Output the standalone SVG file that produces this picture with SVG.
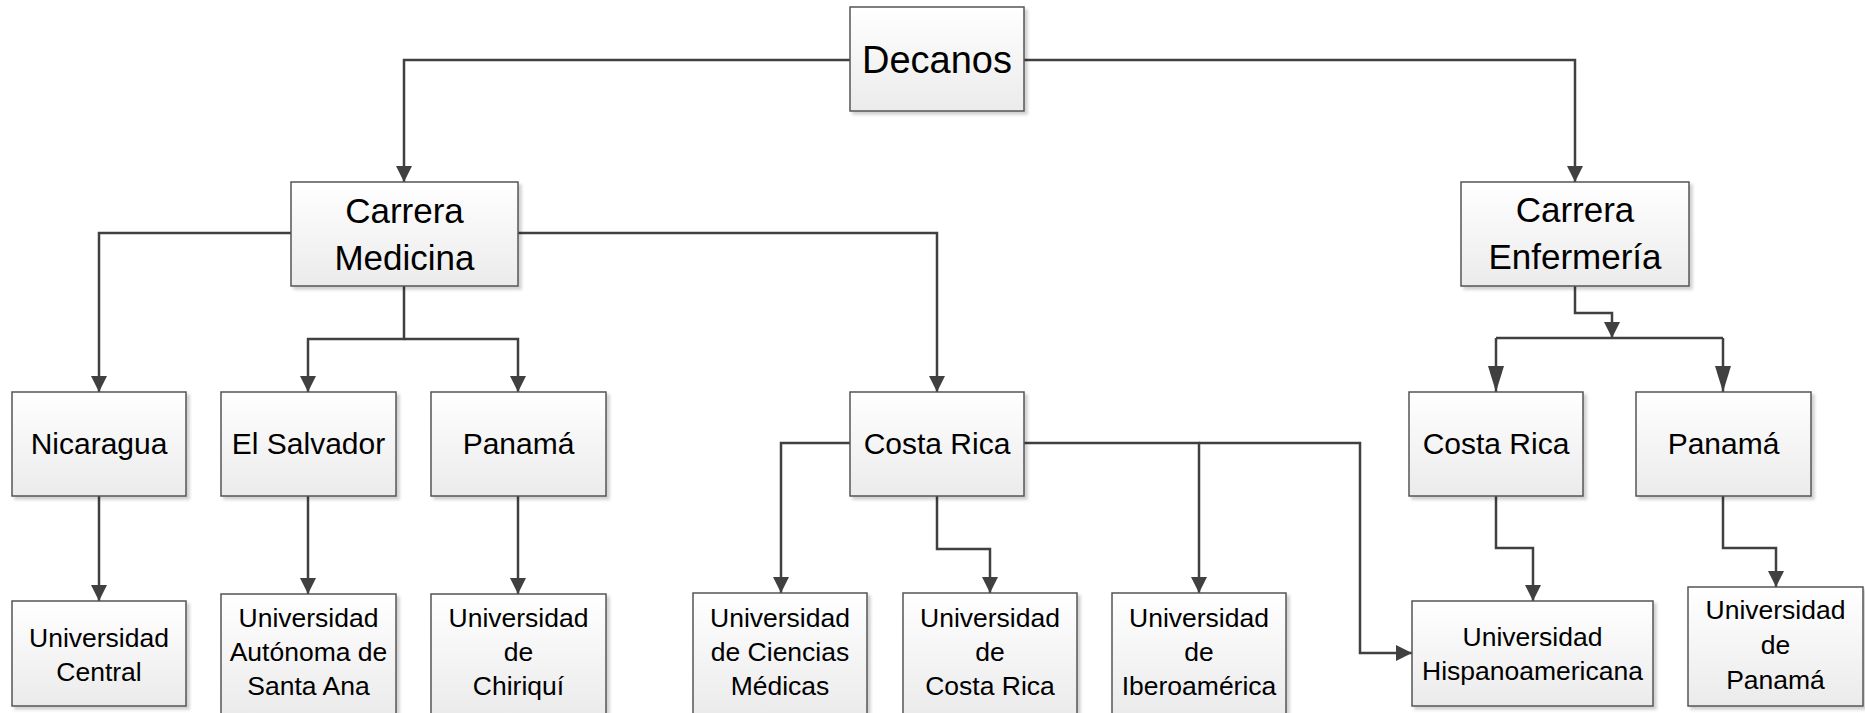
<svg xmlns="http://www.w3.org/2000/svg" width="1865" height="713" viewBox="0 0 1865 713">
<defs>
<linearGradient id="g" x1="0" y1="0" x2="0" y2="1">
<stop offset="0" stop-color="#ffffff"/>
<stop offset="1" stop-color="#ebebeb"/>
</linearGradient>
<filter id="sh" x="-10%" y="-10%" width="125%" height="130%">
<feDropShadow dx="3" dy="3" stdDeviation="1.5" flood-color="#000" flood-opacity="0.18"/>
</filter>
<marker id="a" viewBox="0 0 16 16" markerWidth="16" markerHeight="16" refX="16" refY="8" orient="auto" markerUnits="userSpaceOnUse">
<path d="M0,0 L16,8 L0,16 z" fill="#404040"/>
</marker>
<marker id="b" viewBox="0 0 26 16" markerWidth="26" markerHeight="16" refX="26" refY="8" orient="auto" markerUnits="userSpaceOnUse">
<path d="M0,0 L26,8 L0,16 z" fill="#404040"/>
</marker>
<style>
.box{fill:url(#g);stroke:#555;stroke-width:1.5;filter:url(#sh)}
.t{font-family:"Liberation Sans",Arial,sans-serif;fill:#000;text-anchor:middle}
.c{fill:none;stroke:#404040;stroke-width:2.5}
.ar{marker-end:url(#a)}
.br{marker-end:url(#b)}
.f1{font-size:38px}
.f2{font-size:35px}
.f3{font-size:30px}
.f4{font-size:26.5px}
</style>
</defs>
<g id="connectors">
<path class="c ar" d="M850,60 H404 V182"/>
<path class="c ar" d="M1024,60 H1575 V182"/>
<path class="c ar" d="M291,233 H99 V392"/>
<path class="c ar" d="M404,286 V339 H308 V392"/>
<path class="c ar" d="M404,339 H518 V392"/>
<path class="c ar" d="M518,233 H937 V392"/>
<path class="c ar" d="M99,496 V601"/>
<path class="c ar" d="M308,496 V594"/>
<path class="c ar" d="M518,496 V594"/>
<path class="c ar" d="M850,443 H781 V593"/>
<path class="c ar" d="M937,496 V549 H990 V593"/>
<path class="c ar" d="M1024,443 H1199 V593"/>
<path class="c ar" d="M1199,443 H1360 V653 H1412"/>
<path class="c ar" d="M1575,286 V313 H1612 V338"/>
<path class="c" d="M1496,338 H1723"/>
<path class="c br" d="M1496,338 V392"/>
<path class="c br" d="M1723,338 V392"/>
<path class="c ar" d="M1496,496 V548 H1533 V601"/>
<path class="c ar" d="M1723,496 V548 H1776 V587"/>
</g>
<g id="decanos">
<rect class="box" x="850" y="7" width="174" height="104"/>
<text class="t f1" x="937" y="73">Decanos</text>
</g>
<g id="carrera-medicina">
<rect class="box" x="291" y="182" width="227" height="104"/>
<text class="t f2" x="404.5" y="223">Carrera</text>
<text class="t f2" x="404.5" y="270">Medicina</text>
</g>
<g id="carrera-enfermeria">
<rect class="box" x="1461" y="182" width="228" height="104"/>
<text class="t f2" x="1575" y="222">Carrera</text>
<text class="t f2" x="1575" y="269">Enfermería</text>
</g>
<g id="nicaragua">
<rect class="box" x="12" y="392" width="174" height="104"/>
<text class="t f3" x="99" y="454">Nicaragua</text>
</g>
<g id="el-salvador">
<rect class="box" x="221" y="392" width="175" height="104"/>
<text class="t f3" x="308.5" y="454">El Salvador</text>
</g>
<g id="panama-med">
<rect class="box" x="431" y="392" width="175" height="104"/>
<text class="t f3" x="518.5" y="454">Panamá</text>
</g>
<g id="costa-rica-med">
<rect class="box" x="850" y="392" width="174" height="104"/>
<text class="t f3" x="937" y="454">Costa Rica</text>
</g>
<g id="costa-rica-enf">
<rect class="box" x="1409" y="392" width="174" height="104"/>
<text class="t f3" x="1496" y="454">Costa Rica</text>
</g>
<g id="panama-enf">
<rect class="box" x="1636" y="392" width="175" height="104"/>
<text class="t f3" x="1723.5" y="454">Panamá</text>
</g>
<g id="u-central">
<rect class="box" x="12" y="601" width="174" height="105"/>
<text class="t f4" x="99" y="647">Universidad</text>
<text class="t f4" x="99" y="681">Central</text>
</g>
<g id="u-autonoma">
<rect class="box" x="221" y="594" width="175" height="120"/>
<text class="t f4" x="308.5" y="627">Universidad</text>
<text class="t f4" x="308.5" y="661">Autónoma de</text>
<text class="t f4" x="308.5" y="695">Santa Ana</text>
</g>
<g id="u-chiriqui">
<rect class="box" x="431" y="594" width="175" height="120"/>
<text class="t f4" x="518.5" y="627">Universidad</text>
<text class="t f4" x="518.5" y="661">de</text>
<text class="t f4" x="518.5" y="695">Chiriquí</text>
</g>
<g id="u-ciencias-medicas">
<rect class="box" x="693" y="593" width="174" height="121"/>
<text class="t f4" x="780" y="627">Universidad</text>
<text class="t f4" x="780" y="661">de Ciencias</text>
<text class="t f4" x="780" y="695">Médicas</text>
</g>
<g id="u-costa-rica">
<rect class="box" x="903" y="593" width="174" height="121"/>
<text class="t f4" x="990" y="627">Universidad</text>
<text class="t f4" x="990" y="661">de</text>
<text class="t f4" x="990" y="695">Costa Rica</text>
</g>
<g id="u-iberoamerica">
<rect class="box" x="1112" y="593" width="174" height="121"/>
<text class="t f4" x="1199" y="627">Universidad</text>
<text class="t f4" x="1199" y="661">de</text>
<text class="t f4" x="1199" y="695">Iberoamérica</text>
</g>
<g id="u-hispanoamericana">
<rect class="box" x="1412" y="601" width="241" height="105"/>
<text class="t f4" x="1532.5" y="646">Universidad</text>
<text class="t f4" x="1532.5" y="680">Hispanoamericana</text>
</g>
<g id="u-panama">
<rect class="box" x="1688" y="587" width="175" height="119"/>
<text class="t f4" x="1775.5" y="619">Universidad</text>
<text class="t f4" x="1775.5" y="654">de</text>
<text class="t f4" x="1775.5" y="689">Panamá</text>
</g>
</svg>
